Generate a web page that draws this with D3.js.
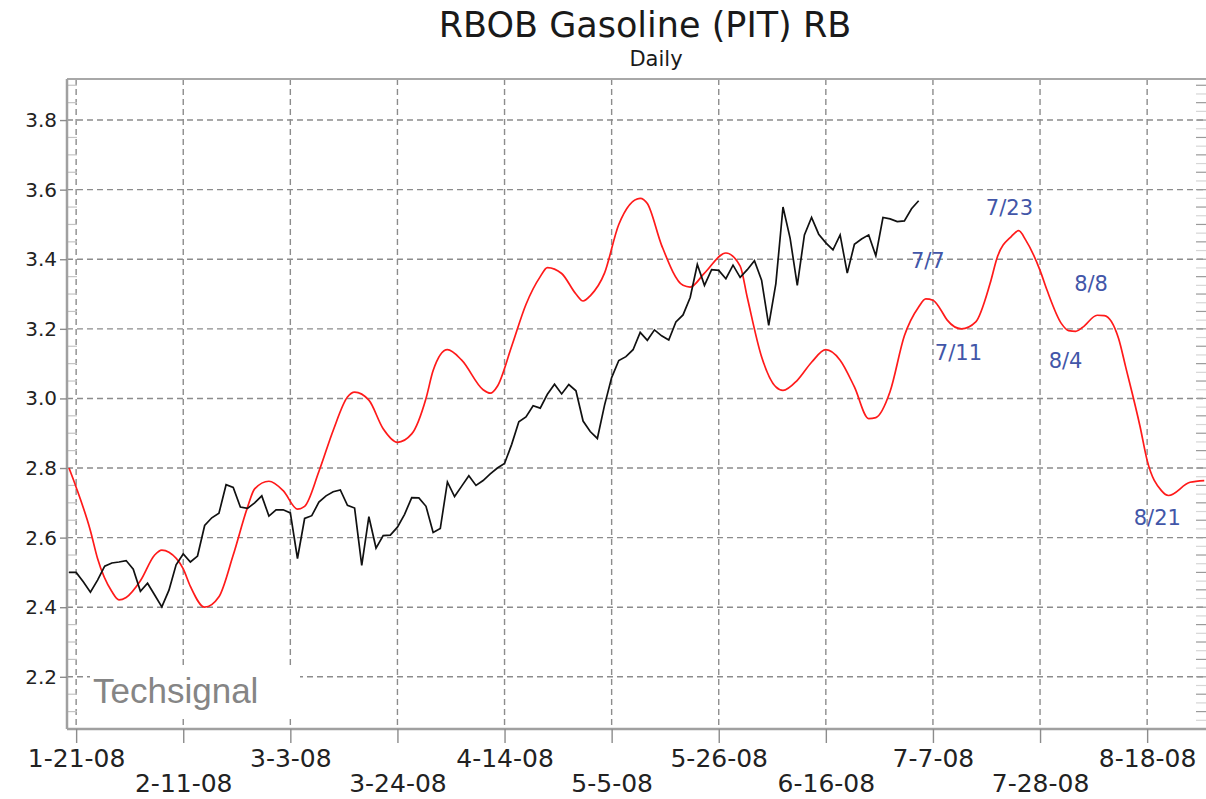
<!DOCTYPE html>
<html>
<head>
<meta charset="utf-8">
<script src="https://cdn.jsdelivr.net/npm/d3@7"></script>
<style>
  body { margin: 0; background: #fff; }
  .root svg { display: block; }
</style>
</head>
<body>
<div class="root"></div>
<script>
// trading days run from the first to the last weekday on the chart
var firstDay = '2008-01-18';
var lastDay = '2008-08-29';

var tickDates = ['2008-01-21', '2008-02-11', '2008-03-03', '2008-03-24', '2008-04-14', '2008-05-05',
                 '2008-05-26', '2008-06-16', '2008-07-07', '2008-07-28', '2008-08-18'];
var priceTicks = [2.2, 2.4, 2.6, 2.8, 3.0, 3.2, 3.4, 3.6, 3.8];

// daily RBOB closes, one per weekday from firstDay (1-18-08 .. 7-3-08)
var closes = [
  2.50, 2.50, 2.473, 2.443, 2.478, 2.518, 2.527, 2.530, 2.534, 2.509,
  2.446, 2.469, 2.435, 2.401, 2.449, 2.522, 2.553, 2.530, 2.547, 2.635,
  2.657, 2.670, 2.752, 2.744, 2.688, 2.684, 2.700, 2.720, 2.662, 2.680,
  2.680, 2.671, 2.540, 2.655, 2.663, 2.702, 2.720, 2.732, 2.737, 2.693,
  2.685, 2.520, 2.660, 2.570, 2.606, 2.607, 2.630, 2.667, 2.715, 2.714,
  2.690, 2.615, 2.626, 2.760, 2.718, 2.748, 2.778, 2.750, 2.764, 2.783,
  2.800, 2.813, 2.868, 2.933, 2.947, 2.979, 2.972, 3.012, 3.041, 3.013,
  3.040, 3.022, 2.935, 2.905, 2.885, 2.980, 3.060, 3.109, 3.120, 3.140,
  3.190, 3.167, 3.197, 3.180, 3.168, 3.220, 3.240, 3.290, 3.385, 3.325,
  3.370, 3.368, 3.344, 3.383, 3.348, 3.370, 3.396, 3.340, 3.210, 3.330,
  3.550, 3.460, 3.325, 3.470, 3.520, 3.472, 3.447, 3.427, 3.470, 3.360,
  3.443, 3.458, 3.470, 3.410, 3.520, 3.516, 3.508, 3.510, 3.545, 3.568
];

// cycle projection (red)
var cycleDates = [
  '2008-01-18', '2008-01-21', '2008-01-23', '2008-01-24', '2008-01-28', '2008-01-29', '2008-01-30',
  '2008-02-01', '2008-02-05', '2008-02-06', '2008-02-07', '2008-02-11', '2008-02-12', '2008-02-14',
  '2008-02-18', '2008-02-20', '2008-02-22', '2008-02-25', '2008-02-27', '2008-02-29', '2008-03-04',
  '2008-03-05', '2008-03-07', '2008-03-11', '2008-03-13', '2008-03-14', '2008-03-18', '2008-03-20',
  '2008-03-24', '2008-03-26', '2008-03-28', '2008-03-31', '2008-04-02', '2008-04-04', '2008-04-09',
  '2008-04-10', '2008-04-11', '2008-04-15', '2008-04-17', '2008-04-21', '2008-04-22', '2008-04-24',
  '2008-04-28', '2008-04-29', '2008-04-30', '2008-05-02', '2008-05-06', '2008-05-09', '2008-05-12',
  '2008-05-14', '2008-05-19', '2008-05-20', '2008-05-22', '2008-05-27', '2008-05-29', '2008-05-30',
  '2008-06-03', '2008-06-05', '2008-06-06', '2008-06-10', '2008-06-12', '2008-06-16', '2008-06-18',
  '2008-06-20', '2008-06-24', '2008-06-25', '2008-06-27', '2008-07-01', '2008-07-03', '2008-07-04',
  '2008-07-07', '2008-07-08', '2008-07-09', '2008-07-11', '2008-07-15', '2008-07-17', '2008-07-18',
  '2008-07-22', '2008-07-23', '2008-07-24', '2008-07-28', '2008-07-29', '2008-07-31', '2008-08-01',
  '2008-08-04', '2008-08-05', '2008-08-07', '2008-08-08', '2008-08-12', '2008-08-13', '2008-08-15',
  '2008-08-18', '2008-08-20', '2008-08-21', '2008-08-26', '2008-08-28'
];
var cycleValues = [
  2.800, 2.745, 2.620, 2.540, 2.445, 2.421, 2.428,
  2.476, 2.550, 2.564, 2.558, 2.510, 2.460, 2.400,
  2.430, 2.550, 2.687, 2.740, 2.762, 2.735, 2.682,
  2.690, 2.790, 2.908, 3.004, 3.018, 2.995, 2.913,
  2.874, 2.898, 3.000, 3.080, 3.140, 3.110, 3.025,
  3.015, 3.035, 3.150, 3.270, 3.350, 3.376, 3.359,
  3.300, 3.280, 3.295, 3.360, 3.500, 3.575, 3.560,
  3.440, 3.325, 3.320, 3.360, 3.418, 3.380, 3.290,
  3.120, 3.033, 3.023, 3.052, 3.104, 3.140, 3.110,
  3.033, 2.942, 2.945, 3.020, 3.180, 3.263, 3.286,
  3.282, 3.258, 3.225, 3.200, 3.220, 3.330, 3.405,
  3.466, 3.482, 3.455, 3.368, 3.310, 3.215, 3.195,
  3.193, 3.205, 3.239, 3.238, 3.172, 3.090, 2.920,
  2.822, 2.735, 2.721, 2.759, 2.764
];

// turning point notes
var turnLabels = ['7/7', '7/11', '7/23', '8/4', '8/8', '8/21'];
var turnDates = ['2008-07-06', '2008-07-12', '2008-07-22', '2008-08-02', '2008-08-07', '2008-08-20'];
var turnLevels = [3.397, 3.132, 3.547, 3.109, 3.331, 2.658];

function drawChart() {
  var w = 1206, h = 799;
  var left = 67, top = 79, bottom = 729, right = 1206;

  var parse = d3.timeParse('%Y-%m-%d');
  var key = d3.timeFormat('%Y-%m-%d');
  var days = d3.timeDay.range(parse(firstDay), d3.timeDay.offset(parse(lastDay), 1))
    .filter(function(d) { return d.getDay() % 6 != 0; })
    .map(key);

  var x = d3.scalePoint()
    .domain(days)
    .range([69, 69 + 7.14 * (days.length - 1)]);

  // label anchors may fall on a weekend, so place them by calendar time
  var xCal = d3.scaleTime()
    .domain([parse('2008-07-07'), parse('2008-07-28')])
    .range([x('2008-07-07'), x('2008-07-28')]);

  var y = d3.scaleLinear()
    .domain([2.05, 3.918])
    .range([bottom, top]);

  var svg = d3.select('.root').append('svg')
    .attr('width', w)
    .attr('height', h)
    .style('font-family', '"DejaVu Sans", Verdana, sans-serif');

  svg.append('defs').append('clipPath').attr('id', 'plot')
    .append('rect')
      .attr('x', left).attr('y', top)
      .attr('width', right - left).attr('height', bottom - top);

  // title
  svg.append('text')
    .attr('x', 645).attr('y', 37)
    .attr('text-anchor', 'middle')
    .attr('font-size', 35)
    .attr('fill', '#1a1a1a')
    .text('RBOB Gasoline (PIT) RB');
  svg.append('text')
    .attr('x', 656).attr('y', 66)
    .attr('text-anchor', 'middle')
    .attr('font-size', 21)
    .attr('fill', '#1a1a1a')
    .text('Daily');

  // dashed grid
  var grid = svg.append('g').attr('class', 'grid')
    .attr('stroke', '#8c8c8c')
    .attr('stroke-width', 1.4)
    .attr('stroke-dasharray', '6,4');

  grid.selectAll('.hgrid')
    .data(priceTicks)
    .enter().append('line')
      .attr('x1', left).attr('x2', right)
      .attr('y1', function(d) { return y(d); })
      .attr('y2', function(d) { return y(d); });

  grid.selectAll('.vgrid')
    .data(tickDates)
    .enter().append('line')
      .attr('x1', function(d) { return x(d); })
      .attr('x2', function(d) { return x(d); })
      .attr('y1', top).attr('y2', bottom);

  // watermark with white patch over the grid
  svg.append('rect')
    .attr('x', 90).attr('y', 668)
    .attr('width', 210).attr('height', 48)
    .attr('fill', '#fff');
  svg.append('text')
    .attr('x', 93).attr('y', 703)
    .attr('font-family', '"Liberation Sans", Arial, sans-serif')
    .attr('font-size', 35)
    .attr('fill', '#858585')
    .text('Techsignal');

  // minor ticks inside the left axis and along the right edge
  var minor = d3.range(2.1, 3.91, 0.05).filter(function(v) {
    return Math.abs(v * 5 - Math.round(v * 5)) > 0.01;
  });
  svg.append('g')
    .attr('stroke', '#c4c4c4').attr('stroke-width', 1.2)
    .selectAll('line')
    .data(minor)
    .enter().append('line')
      .attr('x1', left).attr('x2', left + 10)
      .attr('y1', function(d) { return y(d); })
      .attr('y2', function(d) { return y(d); });

  var rightTicks = d3.range(2.075, 3.91, 0.025);
  svg.append('g')
    .attr('stroke-width', 1.2)
    .selectAll('line')
    .data(rightTicks)
    .enter().append('line')
      .attr('stroke', function(d, i) { return i % 2 ? '#9a9a9a' : '#d6d6d6'; })
      .attr('x1', right - 10).attr('x2', right)
      .attr('y1', function(d) { return y(d); })
      .attr('y2', function(d) { return y(d); });

  // frame
  svg.append('line')
    .attr('x1', left).attr('x2', right).attr('y1', top).attr('y2', top)
    .attr('stroke', '#a8a8a8').attr('stroke-width', 2);

  // y axis
  var yAxis = svg.append('g')
    .attr('transform', 'translate(' + left + ',0)')
    .call(d3.axisLeft(y)
      .tickValues(priceTicks)
      .tickFormat(d3.format('.1f'))
      .tickSize(7)
      .tickPadding(3));
  yAxis.select('.domain')
    .attr('d', 'M0,' + top + 'V' + bottom)
    .attr('stroke', '#a0a0a0').attr('stroke-width', 2.5);
  yAxis.selectAll('.tick line').attr('stroke', '#8c8c8c').attr('stroke-width', 1.4);
  yAxis.selectAll('.tick text')
    .attr('font-size', 20)
    .attr('font-family', '"DejaVu Sans", Verdana, sans-serif')
    .attr('fill', '#222');

  // x axis, labels on two rows
  var xAxis = svg.append('g')
    .attr('transform', 'translate(0,' + bottom + ')')
    .call(d3.axisBottom(x)
      .tickValues(tickDates)
      .tickFormat(function(d) { return d3.timeFormat('%-m-%-d-%y')(parse(d)); })
      .tickSize(14)
      .tickPadding(6));
  xAxis.select('.domain')
    .attr('d', 'M' + left + ',0H' + right)
    .attr('stroke', '#a0a0a0').attr('stroke-width', 2.5);
  xAxis.selectAll('.tick line').attr('stroke', '#8c8c8c').attr('stroke-width', 1.4);
  xAxis.selectAll('.tick text')
    .attr('font-size', 25)
    .attr('font-family', '"DejaVu Sans", Verdana, sans-serif')
    .attr('fill', '#222')
    .attr('dy', null)
    .attr('y', function(d, i) { return i % 2 ? 63 : 38; });

  // lines
  var plot = svg.append('g').attr('clip-path', 'url(#plot)');

  plot.append('path')
    .datum(cycleValues)
    .attr('fill', 'none')
    .attr('stroke', '#ff1a1a')
    .attr('stroke-width', 1.7)
    .attr('d', d3.line()
      .curve(d3.curveMonotoneX)
      .x(function(d, i) { return x(cycleDates[i]); })
      .y(function(d) { return y(d); }));

  plot.append('path')
    .datum(closes)
    .attr('fill', 'none')
    .attr('stroke', '#111')
    .attr('stroke-width', 1.7)
    .attr('d', d3.line()
      .x(function(d, i) { return x(days[i]); })
      .y(function(d) { return y(d); }));

  // turning point labels
  svg.append('g')
    .selectAll('text')
    .data(turnLabels)
    .enter().append('text')
      .attr('x', function(d, i) { return xCal(parse(turnDates[i])); })
      .attr('y', function(d, i) { return y(turnLevels[i]); })
      .attr('dy', '0.35em')
      .attr('text-anchor', 'middle')
      .attr('font-size', 21)
      .attr('fill', '#4256a8')
      .text(function(d) { return d; });
}

window.onload = function() {
  drawChart();
};
</script>
</body>
</html>
